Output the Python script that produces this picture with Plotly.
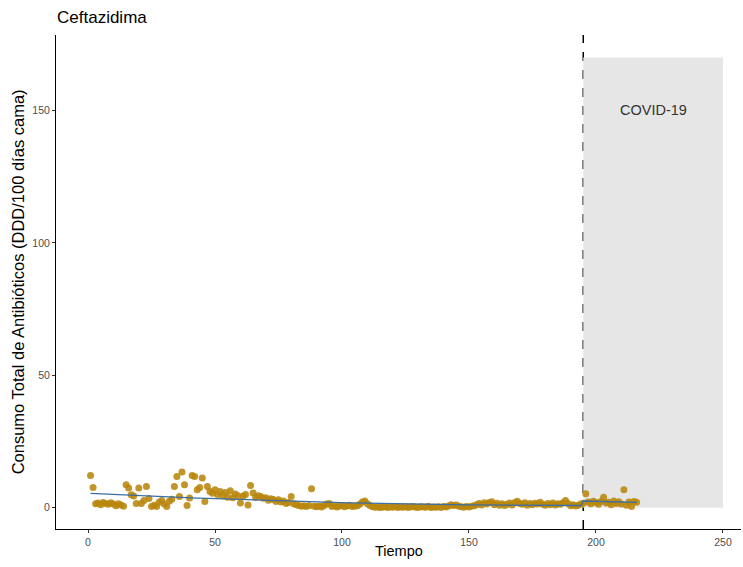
import numpy as np
import plotly.graph_objects as go

# Monthly ceftazidime consumption (DDD/100 bed-days), periods 1..216
pre_values = [
    12.2, 7.7, 1.5, 1.8, 1.2, 2.0, 1.6, 1.3, 1.9, 1.4, 0.8, 1.5, 1.1, 0.6,
    8.7, 7.5, 4.9, 4.5, 1.6, 7.5, 1.6, 2.8, 8.0, 3.5, 0.5, 1.0, 0.5, 2.1, 2.8, 1.4,
    0.5, 2.5, 3.2, 8.0, 11.8, 4.3, 13.5, 8.7, 0.9, 3.7, 12.2, 11.8, 6.8, 7.7, 11.3,
    2.4, 8.0, 6.2, 5.5, 6.8, 5.0, 6.2, 4.6, 5.8, 4.0, 6.4, 3.8, 5.2, 4.6, 1.8,
    4.4, 5.0, 1.1, 8.4, 5.6, 3.9, 4.6, 4.3, 3.6, 3.8, 2.9, 3.4, 3.1, 2.4, 3.0,
    2.2, 2.6, 1.6, 2.0, 4.3, 1.5, 1.2, 0.9, 0.6, 0.8,
    0.5, 0.9, 7.2, 0.6, 0.4, 0.7, 0.3, 0.9, 1.4, 1.6,
    0.5, 0.8, 0.3, 0.6, 0.9, 0.4, 0.7, 1.0, 0.5, 0.6,
    0.8, 1.3, 2.2, 2.6, 1.5, 0.9, 0.4, 0.2, 0.3, 0.1,
    0.2, 0.4, 0.1, 0.3, 0.2, 0.5, 0.1, 0.3, 0.2, 0.4,
    0.1, 0.3, 0.5, 0.2, 0.1, 0.4, 0.3, 0.2, 0.6, 0.1,
    0.3, 0.2, 0.4, 0.1, 0.5, 0.3, 0.7, 1.2, 0.9, 1.1,
    0.6, 0.4, 0.2, 0.5, 0.3, 0.6, 0.8, 1.2, 1.6, 1.1,
    1.9, 1.4, 2.0, 2.3, 1.2, 1.7, 1.0, 1.5, 0.9, 1.3,
    1.8, 1.1, 2.0, 2.5, 1.6, 1.3, 1.9, 1.0, 1.6, 1.2,
    1.7, 1.4, 2.1, 1.3, 1.0, 1.6, 1.2, 1.8, 1.1, 1.5,
    1.3, 1.9, 2.8, 1.6, 0.8, 1.2, 0.7, 1.0, 1.4,
]
post_values = [
    1.7, 5.3, 2.2, 1.5, 2.5, 2.0, 1.3, 2.4, 4.0, 1.8, 2.1,
    1.2, 2.6, 1.6, 2.3, 1.4, 6.8, 1.0, 2.2, 0.5, 2.4, 2.1,
]
covid_start = 195
covid_end = 250
covid_top = 170

values = np.array(pre_values + post_values)
tiempo = np.arange(1, len(values) + 1)

# Segmented trend: quadratic before the pandemic, linear after it
pre_t = tiempo[tiempo < covid_start]
post_t = tiempo[tiempo >= covid_start]
pre_fit = np.polyval(np.polyfit(pre_t, values[tiempo < covid_start], 2), pre_t)
post_fit = np.polyval(np.polyfit(post_t, values[tiempo >= covid_start], 1), post_t)
trend_t = np.concatenate([pre_t, post_t])
trend_y = np.concatenate([pre_fit, post_fit])

fig = go.Figure()
fig.add_trace(go.Scatter(
    x=tiempo, y=values, mode="markers",
    marker=dict(color="#B8860B", size=7, opacity=0.88, line=dict(width=0)),
    hoverinfo="x+y", showlegend=False,
))
fig.add_trace(go.Scatter(
    x=trend_t, y=trend_y, mode="lines",
    line=dict(color="#3A6EA5", width=1.3),
    showlegend=False,
))

fig.add_shape(type="rect", x0=covid_start, x1=covid_end, y0=0, y1=covid_top,
              fillcolor="#E6E6E6", line=dict(width=0), layer="below")
fig.add_shape(type="line", x0=covid_start, x1=covid_start, y0=0, y1=1, yref="paper",
              line=dict(color="black", width=1.5, dash="dash"), layer="below")
fig.add_annotation(x=(covid_start + covid_end) / 2, y=150, text="COVID-19",
                   showarrow=False, font=dict(size=14.5, color="#333333"))

font_family = "Liberation Sans, Arial, sans-serif"
fig.add_annotation(xref="paper", yref="paper", x=0.5, y=-0.0445, yanchor="middle",
                   text="Tiempo", showarrow=False,
                   font=dict(size=14.5, color="black"))
fig.add_annotation(xref="paper", yref="paper", x=-0.055, xanchor="center", y=0.5,
                   text="Consumo Total de Antibióticos (DDD/100 días cama)",
                   textangle=-90, showarrow=False,
                   font=dict(size=16.5, color="black"))

axis_common = dict(
    showgrid=False, zeroline=False, showline=True, linecolor="black", linewidth=1,
    ticks="outside", ticklen=3, tickcolor="#333333", tickwidth=1,
    tickfont=dict(size=10.5, color="#4D4D4D"),
)
fig.update_xaxes(range=[-12.6, 257.1], tickvals=[0, 50, 100, 150, 200, 250], **axis_common)
fig.update_yaxes(range=[-8.0, 178.5], tickvals=[0, 50, 100, 150], **axis_common)

fig.update_layout(
    width=743, height=567,
    margin=dict(l=56, r=2, t=35, b=38),
    plot_bgcolor="white", paper_bgcolor="white",
    font=dict(family=font_family),
    title=dict(text="Ceftazidima", x=57 / 743, xanchor="left", xref="container",
               y=1 - 17 / 567, yanchor="middle", yref="container",
               font=dict(size=17, color="black")),
)

fig.write_html("out.html")
